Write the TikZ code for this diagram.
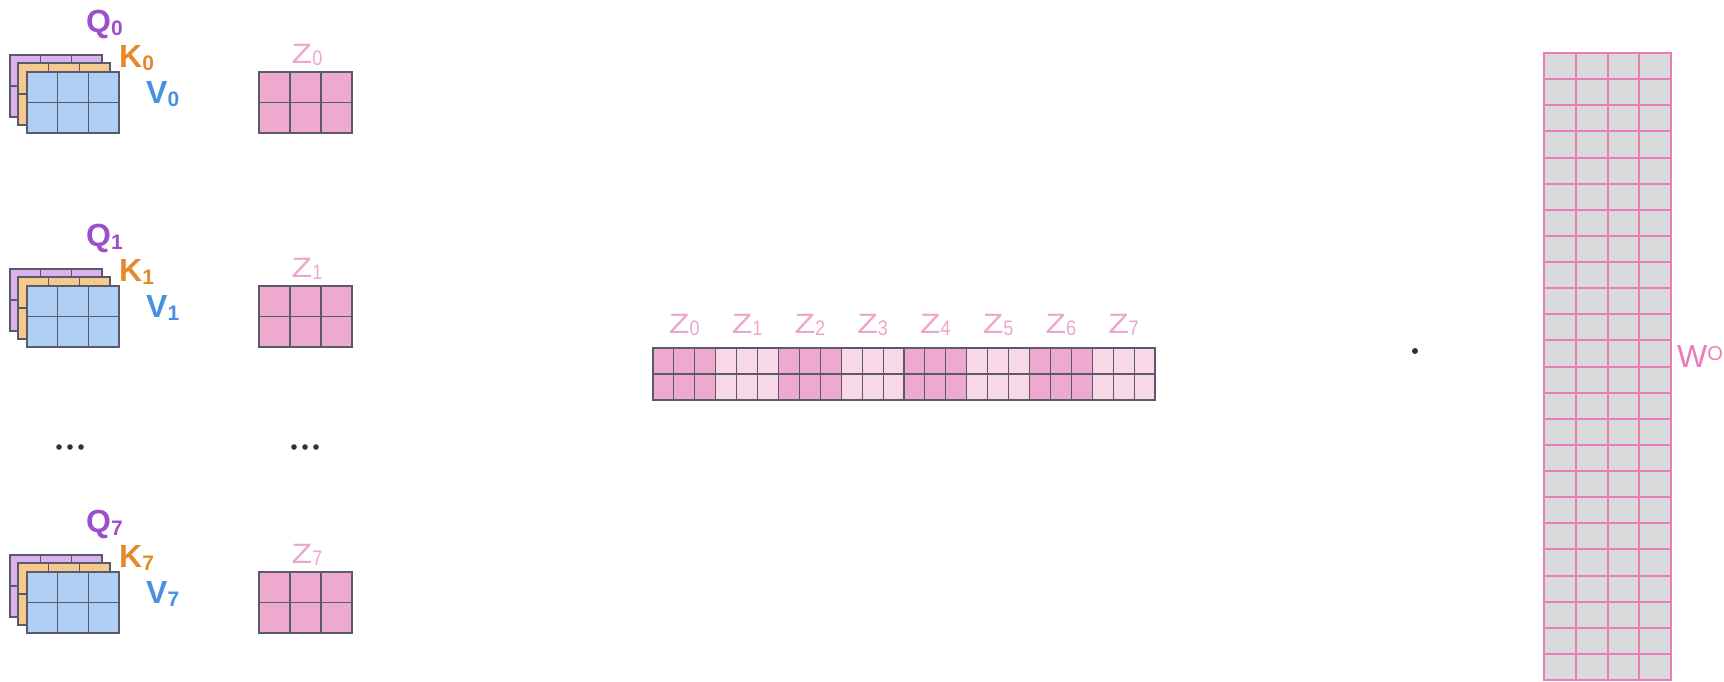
\documentclass[tikz,border=0pt]{standalone}
\usepackage{fontspec}
\setmainfont{Liberation Sans}
\definecolor{qcol}{HTML}{9B4FCB}
\definecolor{kcol}{HTML}{E5892B}
\definecolor{vcol}{HTML}{4A90E2}
\definecolor{zlab}{HTML}{EBA6CC}
\definecolor{blueF}{HTML}{B0CFF5}
\definecolor{orangeF}{HTML}{F6C98F}
\definecolor{purpleF}{HTML}{DAB2EE}
\definecolor{pinkF}{HTML}{EEA9CF}
\definecolor{lpinkF}{HTML}{F8D7E7}
\definecolor{gridc}{HTML}{5A5A6A}
\definecolor{wfill}{HTML}{D9DADB}
\definecolor{wline}{HTML}{E87DB9}
\definecolor{dotc}{HTML}{333333}
\newcommand\qkvlabel[2]{{\fontsize{32}{34}\selectfont\bfseries #1}{\fontsize{21}{22}\selectfont\bfseries\raisebox{-3pt}{#2}}}
\newcommand\zlabel[1]{{\fontsize{28}{30}\selectfont\scalebox{1.2}[1]{Z}}{\fontsize{20}{20}\selectfont\raisebox{-2pt}{\scalebox{0.9}[1.05]{#1}}}}
\begin{document}
\begin{tikzpicture}[x=1pt,y=-1pt,
  cellline/.style={draw=gridc,line width=1.1pt},
  wcell/.style={draw=wline,line width=2pt},
  lbl/.style={inner sep=0pt,anchor=west}]
\useasboundingbox (0,0) rectangle (1724,681);
% ---------- left stacks ----------
\foreach \o/\n in {0/0,214/1,500/7}{
  % purple (Q)
  \fill[purpleF] (10,55+\o) rectangle (102,117+\o);
  \draw[cellline] (10,55+\o) rectangle (102,117+\o);
  \draw[cellline] (40.7,55+\o) -- (40.7,117+\o) (71.3,55+\o) -- (71.3,117+\o) (10,86+\o) -- (102,86+\o);
  % orange (K)
  \fill[orangeF] (18,63+\o) rectangle (110,125+\o);
  \draw[cellline] (18,63+\o) rectangle (110,125+\o);
  \draw[cellline] (48.7,63+\o) -- (48.7,125+\o) (79.3,63+\o) -- (79.3,125+\o) (18,94+\o) -- (110,94+\o);
  % blue (V)
  \fill[blueF] (27,72+\o) rectangle (119,133+\o);
  \draw[cellline] (27,72+\o) rectangle (119,133+\o);
  \draw[cellline] (57.7,72+\o) -- (57.7,133+\o) (88.3,72+\o) -- (88.3,133+\o) (27,102.5+\o) -- (119,102.5+\o);
  % labels
  \node[lbl,text=qcol] (q\n) at (86,24+\o) {\qkvlabel{Q}{\n}};
  \node[lbl,text=kcol] (k\n) at (119,58+\o) {\qkvlabel{K}{\n}};
  \node[lbl,text=vcol] (v\n) at (146,94+\o) {\qkvlabel{V}{\n}};
  % Z box
  \fill[pinkF] (259,72+\o) rectangle (352,133+\o);
  \draw[cellline] (259,72+\o) rectangle (352,133+\o);
  \draw[cellline] (290,72+\o) -- (290,133+\o) (321,72+\o) -- (321,133+\o) (259,102.5+\o) -- (352,102.5+\o);
  \node[inner sep=0pt,text=zlab] (z\n) at (307,55+\o) {\zlabel{\n}};
}
% ellipsis dots
\foreach \cx in {70,305}{
  \foreach \dx in {-11,0,11}{
    \fill[dotc] (\cx+\dx,447) circle (2.8);
  }
}
% ---------- concatenated strip ----------
\foreach \g in {0,...,7}{
  \pgfmathsetmacro\gx{653+\g*62.75}
  \ifodd\g
    \fill[lpinkF] (\gx,348) rectangle (\gx+62.75,400);
  \else
    \fill[pinkF] (\gx,348) rectangle (\gx+62.75,400);
  \fi
  \node[inner sep=0pt,text=zlab] (cz\g) at (\gx+31.4,325) {\zlabel{\g}};
}
\draw[cellline] (653,348) rectangle (1155,400);
\draw[cellline] (653,374) -- (1155,374);
\foreach \i in {1,...,23}{
  \draw[cellline] (653+\i*20.917,348) -- (653+\i*20.917,400);
}
% multiplication dot
\fill[dotc] (1415,351) circle (3);
% ---------- W^O ----------
\fill[wfill] (1544,53) rectangle (1671,680);
\foreach \j in {1,...,23}{
  \draw[wcell] (1544,53+\j*26.125) -- (1671,53+\j*26.125);
}
\foreach \i in {1,2,3}{
  \draw[wcell] (1544+\i*31.75,53) -- (1544+\i*31.75,680);
}
\draw[wcell] (1544,53) rectangle (1671,680);
\node[lbl,text=wline] (wo) at (1677,356) {{\fontsize{32}{32}\selectfont W}{\fontsize{20}{20}\selectfont\raisebox{7pt}{O}}};
\end{tikzpicture}
\end{document}
